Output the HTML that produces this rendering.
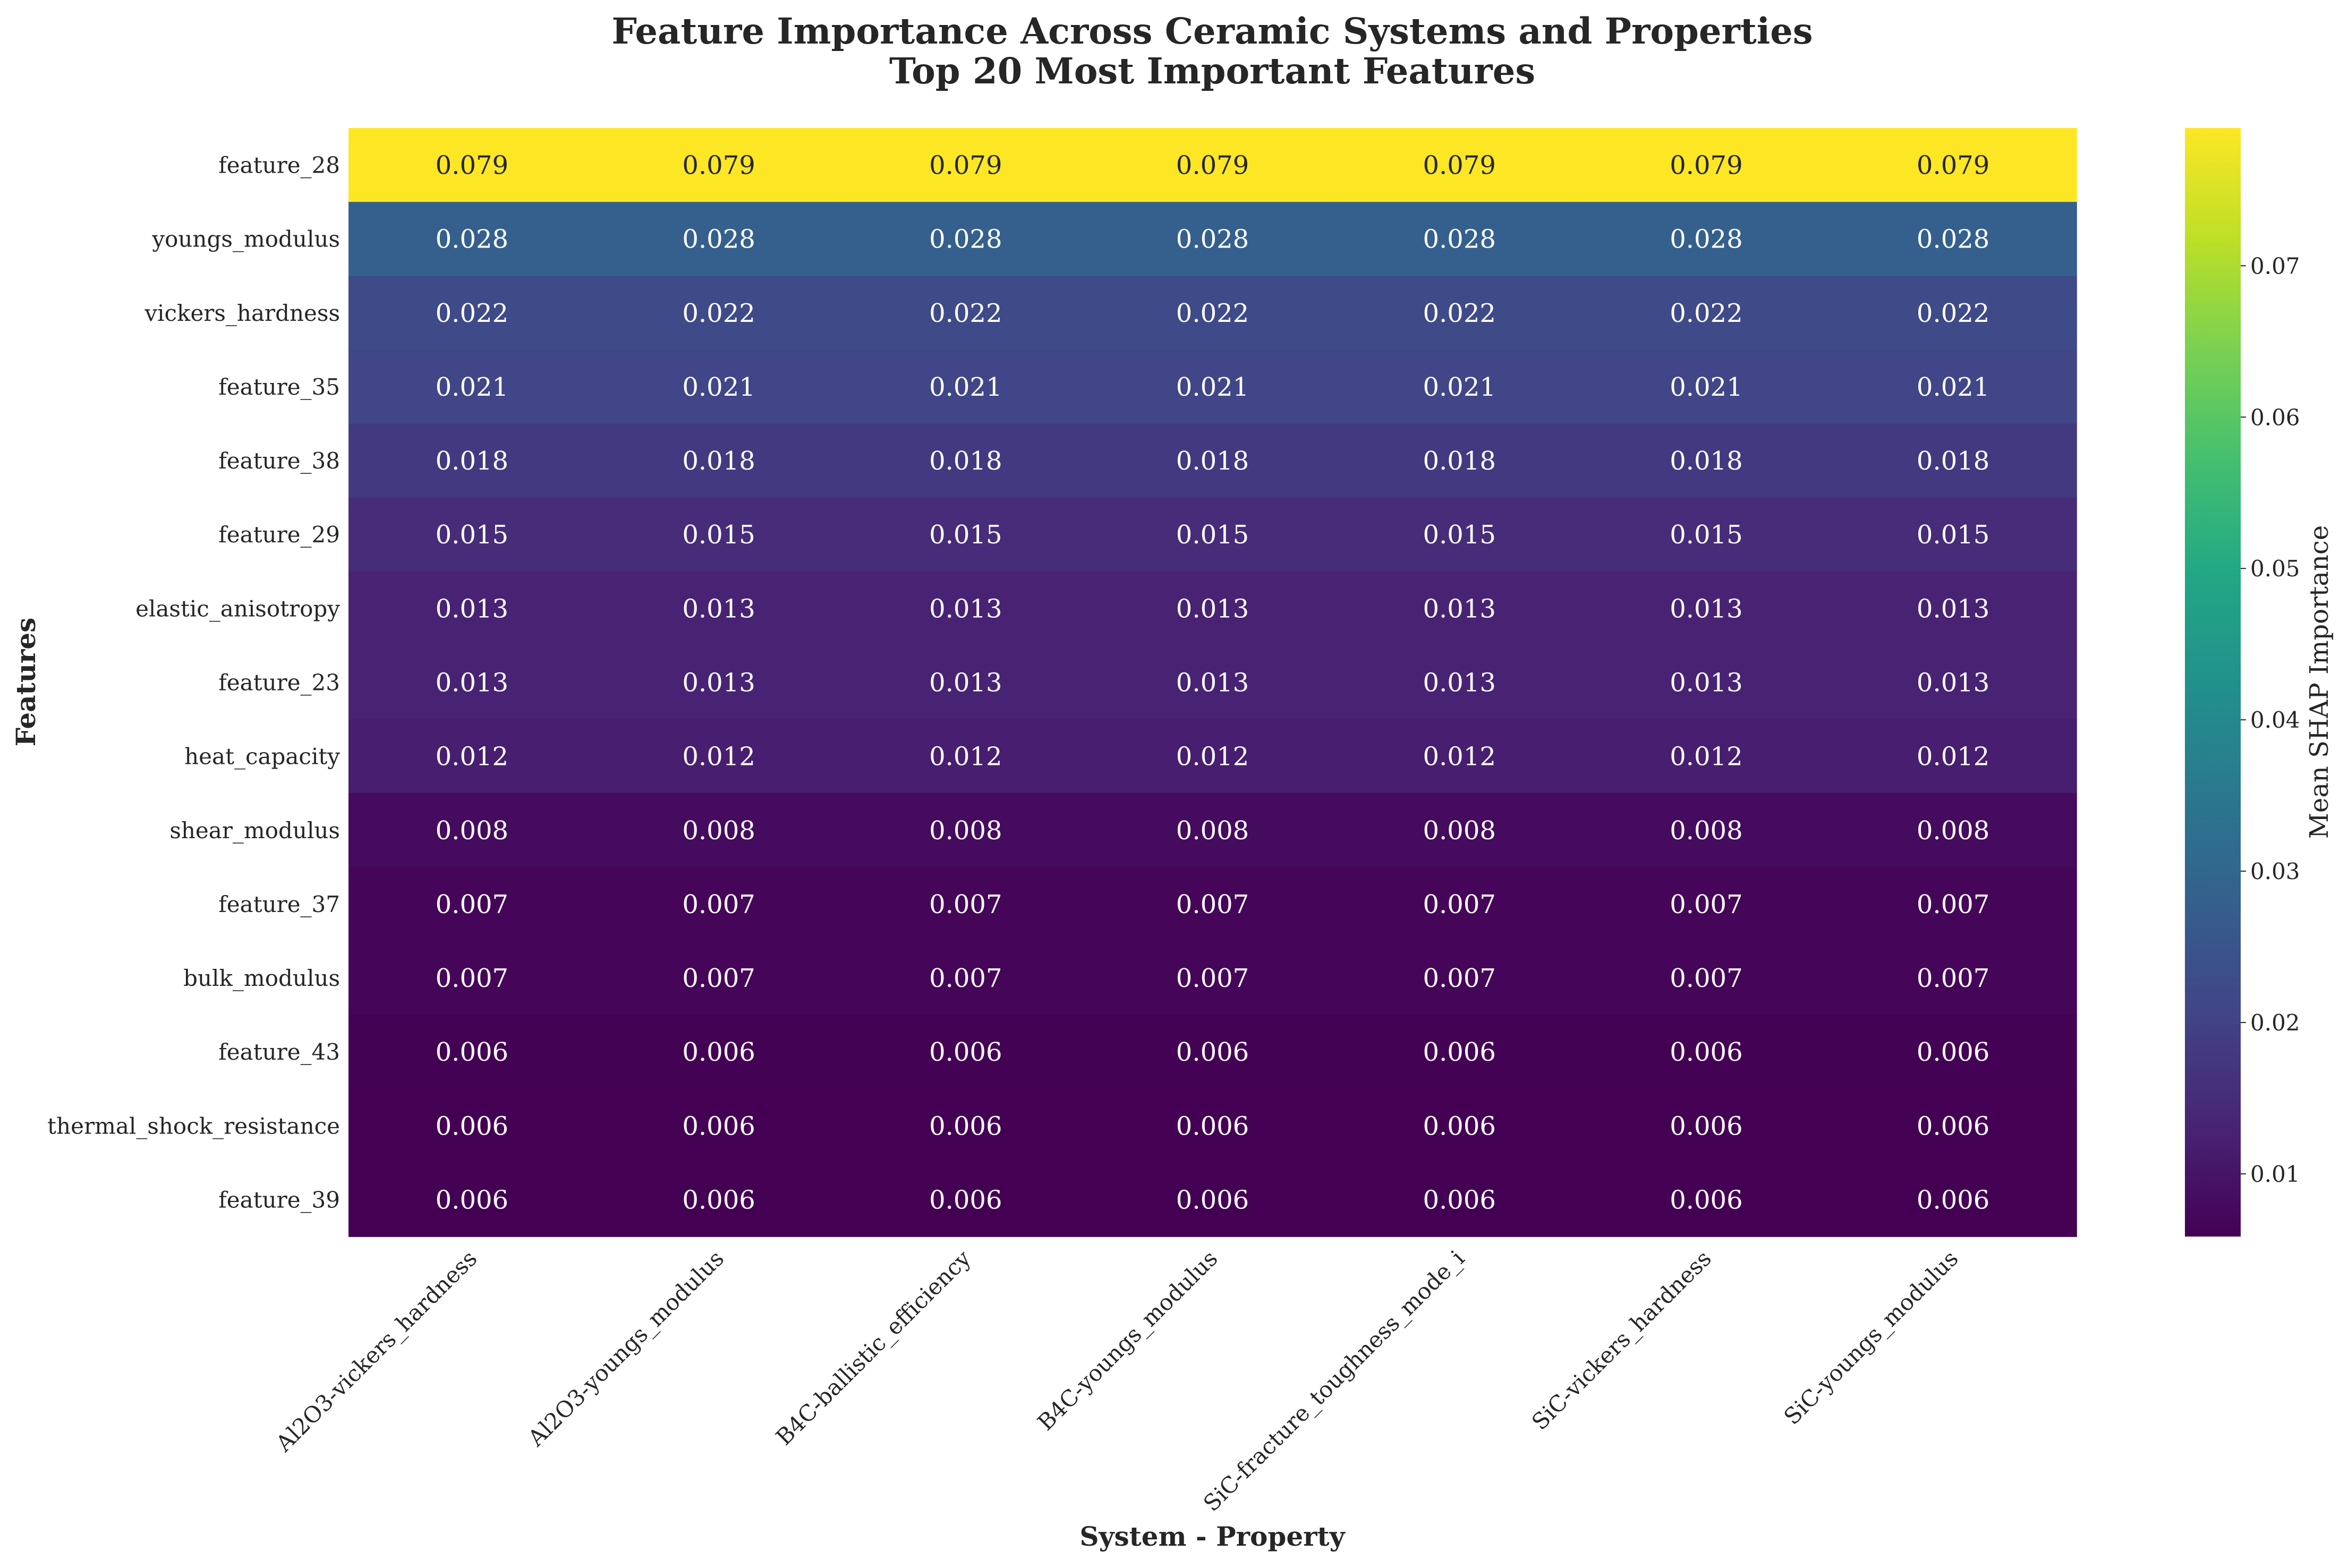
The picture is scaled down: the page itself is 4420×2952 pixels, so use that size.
<!DOCTYPE html>
<html><head><meta charset="utf-8"><style>
html,body{margin:0;padding:0;background:#fff;}
svg{display:block;font-family:"DejaVu Serif","Liberation Serif",serif;}
</style></head><body>
<svg id="chart" width="4420" height="2952" viewBox="0 0 4420 2952" xmlns="http://www.w3.org/2000/svg">
<rect width="4420" height="2952" fill="#fff"/>
<text x="2282" y="82" text-anchor="middle" font-size="67" font-weight="bold" fill="#262626">Feature Importance Across Ceramic Systems and Properties</text>
<text x="2282" y="157" text-anchor="middle" font-size="67" font-weight="bold" fill="#262626">Top 20 Most Important Features</text>
<g id="cells"></g>
<g id="ylabels"></g>
<g id="xlabels"></g>
<g id="cbar"></g>
<text transform="translate(66,1284) rotate(-90)" text-anchor="middle" font-size="50" font-weight="bold" fill="#262626">Features</text>
<text x="2282" y="2910" text-anchor="middle" font-size="50" font-weight="bold" fill="#262626">System - Property</text>
<text transform="translate(4382,1284) rotate(-90)" text-anchor="middle" font-size="48" fill="#262626">Mean SHAP Importance</text>
</svg>
<script>
const features = ["feature_28","youngs_modulus","vickers_hardness","feature_35","feature_38","feature_29","elastic_anisotropy","feature_23","heat_capacity","shear_modulus","feature_37","bulk_modulus","feature_43","thermal_shock_resistance","feature_39"];
const systems = ["Al2O3-vickers_hardness","Al2O3-youngs_modulus","B4C-ballistic_efficiency","B4C-youngs_modulus","SiC-fracture_toughness_mode_i","SiC-vickers_hardness","SiC-youngs_modulus"];
const rowValues = [0.0791,0.028,0.022,0.021,0.018,0.015,0.013,0.013,0.012,0.008,0.007,0.007,0.006,0.0059,0.0059];
const cbarTicks = [0.01,0.02,0.03,0.04,0.05,0.06,0.07];
const vmin = 0.00586, vmax = 0.0791;

const NS="http://www.w3.org/2000/svg";
const X0=656,X1=3909,Y0=241,Y1=2328;
const cw=(X1-X0)/systems.length, ch=(Y1-Y0)/features.length;
const xPos=i=>X0+i*cw, yPos=i=>Y0+i*ch;
const stops=[[0,[68,1,84]],[0.1,[72,36,117]],[0.2,[65,68,135]],[0.3,[53,95,141]],[0.4,[42,120,142]],[0.5,[33,145,140]],[0.6,[34,168,132]],[0.7,[68,191,112]],[0.8,[122,209,81]],[0.9,[189,223,38]],[1,[253,231,37]]];
function viridis(t){t=Math.max(0,Math.min(1,t));for(let i=1;i<stops.length;i++){if(t<=stops[i][0]){const a=stops[i-1],b=stops[i];const f=(t-a[0])/(b[0]-a[0]);const c=a[1].map((v,k)=>Math.round(v+(b[1][k]-v)*f));return c;}}return stops[stops.length-1][1];}
const norm=v=>(v-vmin)/(vmax-vmin);
function mk(tag,attrs,parent){const e=document.createElementNS(NS,tag);for(const k in attrs)e.setAttribute(k,attrs[k]);parent.appendChild(e);return e;}

const gc=document.getElementById('cells');
features.forEach((f,r)=>{
  systems.forEach((s,c)=>{
    const v=rowValues[r];const col=viridis(norm(v));
    const rect=mk('rect',{x:xPos(c),y:yPos(r),width:cw+0.8,height:ch+0.8,fill:`rgb(${col.join(',')})`},gc);
    
    
    const lum=(0.2126*col[0]+0.7152*col[1]+0.0722*col[2])/255;
    const t=mk('text',{x:xPos(c)+cw/2,y:yPos(r)+ch/2+17,'text-anchor':'middle','font-size':'48',fill:lum>0.408?'#262626':'#ffffff'},gc);
    
    
    t.textContent=v.toFixed(3);
  });
});
const gy=document.getElementById('ylabels');
features.forEach((f,r)=>{
  const t=mk('text',{x:640,y:yPos(r)+ch/2+15,'text-anchor':'end','font-size':'42',fill:'#262626'},gy);
  
  
  t.textContent=f;
});
const gx=document.getElementById('xlabels');
systems.forEach((s,c)=>{
  const cx=xPos(c)+cw/2;
  const t=mk('text',{transform:`translate(${cx+12},${2372}) rotate(-45)`,'text-anchor':'end','font-size':'42',fill:'#262626'},gx);
  
  
  t.textContent=s;
});
const gb=document.getElementById('cbar');
const CB0=4113,CB1=4218;
const cbY=v=>Y1-(v-vmin)/(vmax-vmin)*(Y1-Y0);
const defs=mk('defs',{},gb);
const lg=mk('linearGradient',{id:'vir',x1:'0',y1:'1',x2:'0',y2:'0'},defs);
stops.forEach(s=>mk('stop',{offset:s[0],'stop-color':`rgb(${s[1].join(',')})`},lg));
const cb=mk('rect',{x:CB0,y:Y0,width:CB1-CB0,height:Y1-Y0,fill:'url(#vir)'},gb);


cbarTicks.forEach(v=>{
  const y=cbY(v);
  const tk=mk('line',{x1:CB1,x2:CB1+10,y1:y,y2:y,stroke:'#262626','stroke-width':'2'},gb);
  
  
  const t=mk('text',{x:CB1+18,y:y+15,'font-size':'42',fill:'#262626'},gb);
  
  
  t.textContent=v.toFixed(2);
});
</script>
</body></html>
